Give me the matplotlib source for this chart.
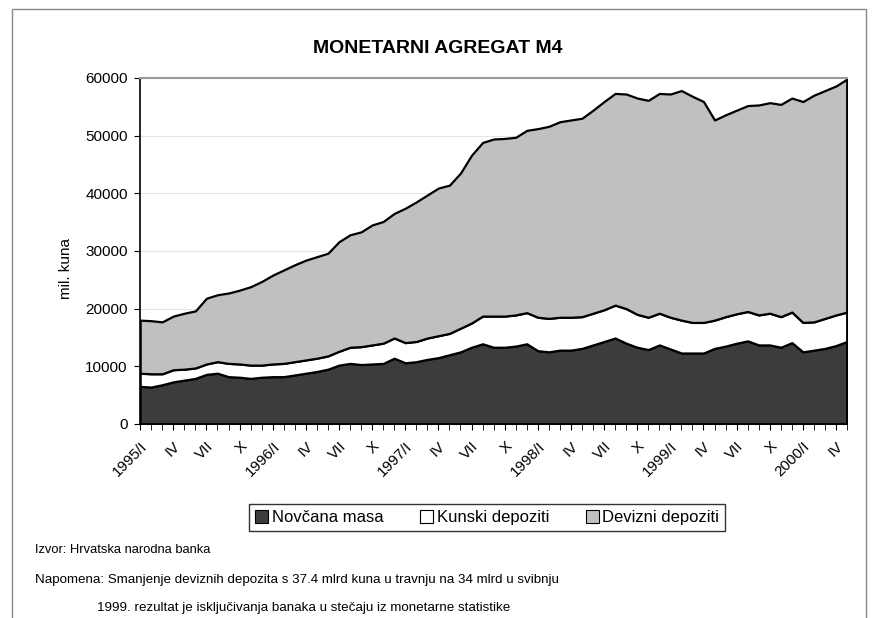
import matplotlib
matplotlib.use("Agg")
import matplotlib.pyplot as plt
from matplotlib.patches import Rectangle, Patch

plt.rcParams['font.family'] = ['Liberation Sans', 'DejaVu Sans']

# monthly data 1995/I - 2000/V, values in mil. kuna
months_roman = ["I", "II", "III", "IV", "V", "VI", "VII", "VIII", "IX", "X", "XI", "XII"]
years = [1995, 1996, 1997, 1998, 1999, 2000]
n_months = 65

# boundary lines (thousands)
novcana_top = [6.5, 6.4, 6.8, 7.3, 7.6, 7.9, 8.6, 8.8, 8.2, 8.1, 7.9, 8.1,
               8.2, 8.2, 8.5, 8.8, 9.1, 9.5, 10.2, 10.5, 10.3, 10.4, 10.5, 11.4,
               10.6, 10.8, 11.2, 11.5, 12.0, 12.5, 13.3, 13.9, 13.3, 13.3, 13.5, 13.9,
               12.7, 12.5, 12.8, 12.8, 13.1, 13.7, 14.3, 14.9, 14.0, 13.3, 12.9, 13.7,
               13.0, 12.3, 12.3, 12.3, 13.1, 13.5, 14.0, 14.4, 13.7, 13.7, 13.3, 14.1,
               12.5, 12.8, 13.1, 13.6, 14.3]
kunski_top = [8.8, 8.7, 8.7, 9.4, 9.5, 9.7, 10.4, 10.8, 10.5, 10.4, 10.2, 10.2,
              10.4, 10.5, 10.8, 11.1, 11.4, 11.8, 12.6, 13.3, 13.4, 13.7, 14.0, 14.9,
              14.1, 14.3, 14.9, 15.3, 15.7, 16.6, 17.5, 18.7, 18.7, 18.7, 18.9, 19.3,
              18.5, 18.3, 18.5, 18.5, 18.6, 19.2, 19.8, 20.6, 20.0, 19.0, 18.5, 19.2,
              18.5, 18.0, 17.6, 17.6, 18.0, 18.6, 19.1, 19.5, 18.9, 19.2, 18.6, 19.4,
              17.6, 17.7, 18.3, 18.9, 19.4]
m4_total = [18.0, 17.9, 17.7, 18.7, 19.2, 19.6, 21.8, 22.4, 22.7, 23.2, 23.8, 24.7,
            25.8, 26.7, 27.6, 28.4, 29.0, 29.6, 31.6, 32.8, 33.3, 34.5, 35.1, 36.5,
            37.4, 38.5, 39.7, 40.9, 41.4, 43.5, 46.6, 48.8, 49.4, 49.5, 49.7, 50.9,
            51.2, 51.6, 52.4, 52.7, 53.0, 54.4, 55.9, 57.3, 57.2, 56.5, 56.1, 57.3,
            57.2, 57.8, 56.8, 55.9, 52.7, 53.6, 54.4, 55.2, 55.3, 55.7, 55.4, 56.5,
            55.9, 57.0, 57.8, 58.6, 59.8]

novcana = [v * 1000 for v in novcana_top]
kunski = [(k - n) * 1000 for k, n in zip(kunski_top, novcana_top)]
devizni = [(t - k) * 1000 for t, k in zip(m4_total, kunski_top)]

x = list(range(n_months))
tick_labels = []
for i in range(0, n_months, 3):
    y = years[i // 12]
    m = months_roman[i % 12]
    tick_labels.append(f"{y}/{m}" if m == "I" else m)

fig = plt.figure(figsize=(8.76, 6.18), dpi=100)
ax = fig.add_axes([0.160, 0.314, 0.807, 0.560])

colors = ["#3c3c3c", "#ffffff", "#c0c0c0"]
labels = ["Novčana masa", "Kunski depoziti", "Devizni depoziti"]
ax.stackplot(x, novcana, kunski, devizni, colors=colors, edgecolor="black",
             linewidth=1.6)

ax.set_xlim(0, n_months - 1)
ax.set_ylim(0, 60000)
ax.set_yticks(range(0, 60001, 10000))
ax.set_xticks(x, minor=True)
ax.set_xticks(range(0, n_months, 3))
ax.set_xticklabels(tick_labels, rotation=45, ha="right", rotation_mode="anchor",
                   fontsize=11)
ax.tick_params(axis="y", labelsize=11, length=4, direction="out", pad=5)
ax.tick_params(axis="x", which="both", length=4, direction="out", pad=7)
ax.yaxis.grid(True, color="#e4e4e4", linewidth=0.8)
ax.set_axisbelow(True)
for s in ["left", "bottom", "right"]:
    ax.spines[s].set_color("black")
    ax.spines[s].set_linewidth(1.2)
ax.spines["top"].set_color("#999999")
ax.spines["top"].set_linewidth(1.5)
ax.set_ylabel("mil. kuna", fontsize=11, labelpad=8)
ax.yaxis.set_label_coords(-0.095, 0.45)

fig.text(0.5, 0.922, "MONETARNI AGREGAT M4", ha="center", va="center",
         fontsize=14, fontweight="bold")

handles = [Patch(facecolor=c, edgecolor="black", linewidth=0.8) for c in colors]
fig.legend(handles, labels, loc="center", bbox_to_anchor=(0.556, 0.162), ncol=3,
           frameon=True, fancybox=False, edgecolor="black", fontsize=12,
           handlelength=0.8, handleheight=0.8, handletextpad=0.2, columnspacing=2.2,
           borderpad=0.35)

fig.text(0.040, 0.110, "Izvor: Hrvatska narodna banka", fontsize=9.3, va="center")
fig.text(0.040, 0.062, "Napomena: Smanjenje deviznih depozita s 37.4 mlrd kuna u travnju na 34 mlrd u svibnju",
         fontsize=9.6, va="center")
fig.text(0.111, 0.016, "1999. rezultat je isključivanja banaka u stečaju iz monetarne statistike",
         fontsize=9.6, va="center")

fig.patches.append(Rectangle((0.014, -0.01), 0.975, 0.995, transform=fig.transFigure,
                             fill=False, edgecolor="#888888", linewidth=1.0))

plt.savefig("out.png", dpi=100)
